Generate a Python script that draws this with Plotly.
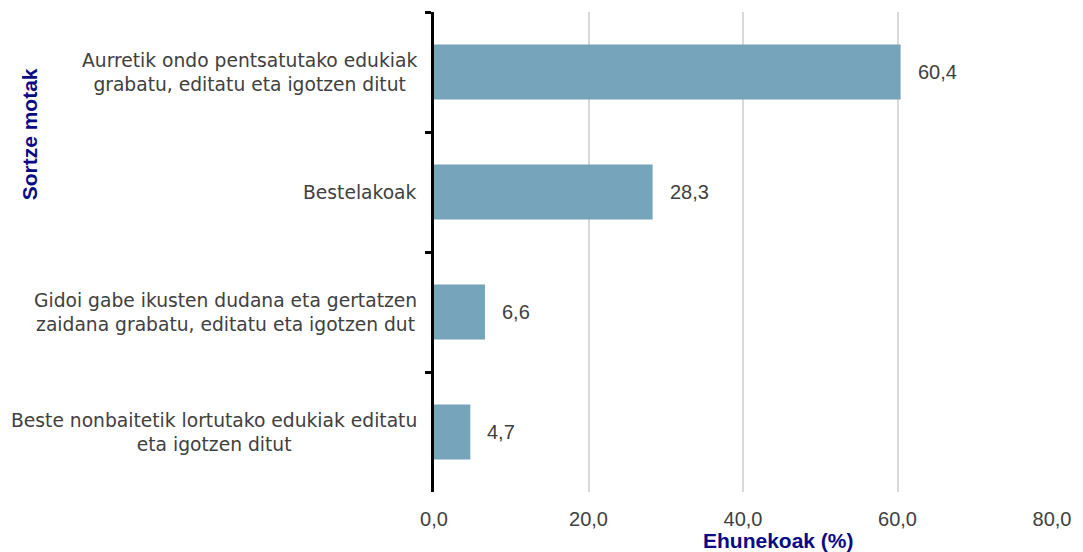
import plotly.graph_objects as go

categories = [
    "Aurretik ondo pentsatutako edukiak<br>grabatu, editatu eta igotzen ditut",
    "Bestelakoak",
    "Gidoi gabe ikusten dudana eta gertatzen<br>zaidana grabatu, editatu eta igotzen dut",
    "Beste nonbaitetik lortutako edukiak editatu<br>eta igotzen ditut",
]
values = [60.4, 28.3, 6.6, 4.7]
x_ticks = [0, 20, 40, 60, 80]
x_title = "Ehunekoak (%)"
y_title = "Sortze motak"

fig = go.Figure()
fig.add_trace(go.Bar(
    x=values, y=categories, orientation="h",
    marker=dict(color="#76A4BA", line=dict(width=0)),
    hoverinfo="skip",
))

# value labels
for c, v in zip(categories, values):
    fig.add_annotation(
        x=v, y=c, xref="x", yref="y",
        text=f"{v:.1f}".replace(".", ","),
        showarrow=False, xanchor="left", xshift=15,
        font=dict(family="Liberation Sans, Arial", size=20, color="#404040"),
    )

# category labels (centered multi-line)
for c in categories:
    fig.add_annotation(
        x=0, y=c, xref="paper", yref="y",
        text=c, showarrow=False, xanchor="right", align="center",
        xshift=-15,
        font=dict(family="DejaVu Sans", size=18.7, color="#404040"),
    )

fig.add_annotation(
    x=0.557, y=-0.101, xref="paper", yref="paper",
    text=f"<b>{x_title}</b>", showarrow=False, xanchor="center", yanchor="middle",
    font=dict(family="Liberation Sans, Arial", size=21, color="#0a0a84"),
)
fig.add_annotation(
    x=-0.6554, y=0.745, xref="paper", yref="paper",
    text=f"<b>{y_title}</b>", showarrow=False, textangle=-90,
    xanchor="center", yanchor="middle",
    font=dict(family="Liberation Sans, Arial", size=21, color="#0a0a84"),
)

fig.update_layout(
    width=1083, height=552,
    margin=dict(l=434, r=28, t=12, b=60),
    paper_bgcolor="white", plot_bgcolor="white",
    bargap=0.54, showlegend=False,
    separators=",.",
    xaxis=dict(
        range=[0, 80], tickvals=x_ticks, tickformat=".1f",
        showgrid=True, gridcolor="#d9d9d9", gridwidth=2,
        zeroline=False, showline=False,
        ticks="outside", ticklen=9, tickcolor="rgba(0,0,0,0)",
        tickfont=dict(family="Liberation Sans, Arial", size=20, color="#404040"),
        fixedrange=True,
    ),
    yaxis=dict(
        categoryorder="array", categoryarray=categories,
        autorange="reversed",
        showticklabels=False,
        showline=True, linecolor="black", linewidth=2.5,
        ticks="outside", tickson="boundaries", ticklen=6, tickwidth=2.5,
        tickcolor="black", showgrid=False, zeroline=False,
        fixedrange=True,
    ),
)

fig.write_html(
    "out.html",
    config={"displayModeBar": False},
    post_script="document.body.style.margin='0px';",
)
